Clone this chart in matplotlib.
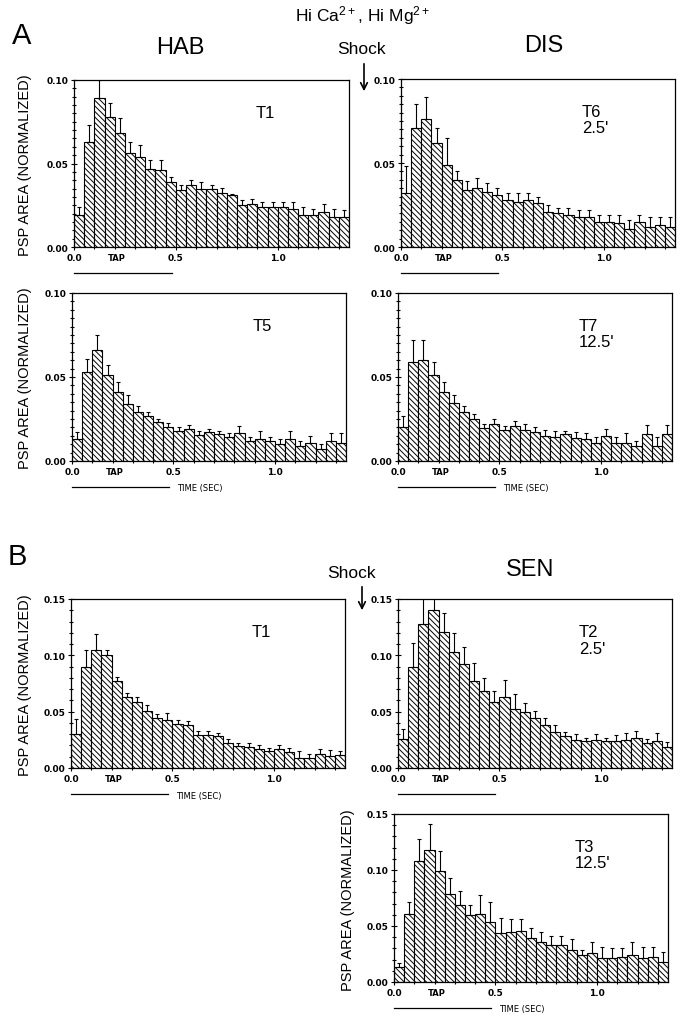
import matplotlib
matplotlib.use('Agg')
import matplotlib.pyplot as plt
import matplotlib.transforms as mtransforms
from matplotlib.ticker import MultipleLocator
import numpy as np

plt.rcParams['font.family'] = ['Liberation Sans', 'DejaVu Sans']
plt.rcParams['mathtext.default'] = 'regular'
plt.rcParams['hatch.linewidth'] = 0.7

BIN = 0.05  # bin width (sec)

# --- A: HAB T1 ---
hab_t1 = [0.019, 0.063, 0.0895, 0.078, 0.068, 0.056, 0.054, 0.047, 0.046, 0.039,
          0.034, 0.037, 0.035, 0.035, 0.0324, 0.031, 0.025, 0.026, 0.024, 0.024,
          0.024, 0.023, 0.019, 0.019, 0.021, 0.018, 0.018]
hab_t1_err = [0.005, 0.010, 0.0105, 0.008, 0.009, 0.007, 0.007, 0.005, 0.006, 0.003,
              0.003, 0.003, 0.004, 0.002, 0.003, 0.001, 0.003, 0.003, 0.003, 0.003,
              0.003, 0.004, 0.005, 0.004, 0.005, 0.005, 0.004]

# --- A: DIS T6 ---
dis_t6 = [0.032, 0.071, 0.076, 0.062, 0.049, 0.040, 0.034, 0.035, 0.033, 0.031,
          0.028, 0.027, 0.028, 0.026, 0.021, 0.020, 0.019, 0.018, 0.018, 0.015,
          0.015, 0.014, 0.011, 0.015, 0.012, 0.013, 0.012]
dis_t6_err = [0.0165, 0.014, 0.013, 0.009, 0.016, 0.005, 0.005, 0.006, 0.005, 0.004,
              0.004, 0.005, 0.004, 0.004, 0.004, 0.003, 0.004, 0.004, 0.004, 0.004,
              0.004, 0.005, 0.005, 0.004, 0.006, 0.005, 0.006]

# --- A: HAB T5 ---
hab_t5 = [0.013, 0.053, 0.066, 0.051, 0.041, 0.034, 0.029, 0.0265, 0.023, 0.020,
          0.018, 0.019, 0.0155, 0.017, 0.016, 0.0145, 0.0165, 0.012, 0.013, 0.012,
          0.010, 0.013, 0.009, 0.011, 0.007, 0.012, 0.011]
hab_t5_err = [0.004, 0.008, 0.009, 0.006, 0.006, 0.005, 0.004, 0.0025, 0.002, 0.0025,
              0.002, 0.0025, 0.0025, 0.002, 0.002, 0.002, 0.0045, 0.002, 0.005, 0.002,
              0.003, 0.005, 0.003, 0.004, 0.003, 0.0045, 0.0055]

# --- A: DIS T7 ---
dis_t7 = [0.020, 0.059, 0.060, 0.051, 0.041, 0.0345, 0.029, 0.025, 0.0195, 0.022,
          0.0185, 0.021, 0.0185, 0.017, 0.015, 0.0145, 0.016, 0.0135, 0.013, 0.011,
          0.015, 0.011, 0.011, 0.009, 0.016, 0.009, 0.016]
dis_t7_err = [0.0065, 0.013, 0.012, 0.008, 0.006, 0.0045, 0.0035, 0.003, 0.0025, 0.003,
              0.0025, 0.003, 0.0035, 0.0035, 0.0035, 0.0035, 0.002, 0.0035, 0.0035, 0.003,
              0.004, 0.003, 0.0055, 0.003, 0.0055, 0.005, 0.0055]

# --- B: HAB T1 ---
habb_t1 = [0.030, 0.090, 0.105, 0.100, 0.077, 0.063, 0.059, 0.051, 0.044, 0.043,
           0.039, 0.038, 0.029, 0.0295, 0.028, 0.022, 0.0195, 0.019, 0.017, 0.015,
           0.0165, 0.0145, 0.009, 0.0085, 0.0125, 0.0105, 0.0115]
habb_t1_err = [0.0137, 0.015, 0.014, 0.005, 0.004, 0.004, 0.004, 0.005, 0.004, 0.006,
               0.004, 0.004, 0.004, 0.0035, 0.0035, 0.0035, 0.0025, 0.003, 0.0035, 0.003,
               0.0035, 0.0035, 0.006, 0.0035, 0.0045, 0.0055, 0.004]

# --- B: SEN T2 ---
sen_t2 = [0.026, 0.090, 0.128, 0.140, 0.121, 0.103, 0.092, 0.077, 0.068, 0.059,
          0.063, 0.052, 0.050, 0.044, 0.038, 0.032, 0.028, 0.025, 0.024, 0.025,
          0.024, 0.024, 0.0245, 0.027, 0.022, 0.024, 0.019]
sen_t2_err = [0.009, 0.021, 0.030, 0.020, 0.017, 0.017, 0.015, 0.016, 0.012, 0.009,
              0.015, 0.014, 0.008, 0.007, 0.006, 0.006, 0.004, 0.005, 0.003, 0.005,
              0.003, 0.005, 0.0065, 0.006, 0.004, 0.007, 0.004]

# --- B: SEN T3 ---
sen_t3 = [0.0135, 0.061, 0.108, 0.118, 0.099, 0.079, 0.069, 0.060, 0.061, 0.0535,
          0.044, 0.045, 0.0455, 0.039, 0.036, 0.033, 0.033, 0.029, 0.024, 0.026,
          0.0215, 0.021, 0.022, 0.024, 0.0215, 0.022, 0.018]
sen_t3_err = [0.0035, 0.010, 0.020, 0.023, 0.018, 0.014, 0.012, 0.009, 0.017, 0.0175,
              0.013, 0.011, 0.0105, 0.009, 0.0085, 0.0085, 0.0085, 0.009, 0.005, 0.010,
              0.0095, 0.009, 0.008, 0.012, 0.0095, 0.009, 0.009]

W, H = 687, 1020


def box(x0, y0, x1, y1):
    """pixel box (top-left origin) -> figure fraction rect"""
    return [x0 / W, 1 - y1 / H, (x1 - x0) / W, (y1 - y0) / H]


def panel(fig, rect, vals, errs, ymax, label, show_time=False):
    ax = fig.add_axes(rect)
    x = np.arange(len(vals)) * BIN
    ax.bar(x, vals, width=BIN, align='edge', color='white', edgecolor='black',
           linewidth=0.8, hatch='\\' * 6, zorder=2)
    ax.errorbar(x + BIN / 2, vals, yerr=[np.zeros(len(vals)), errs], fmt='none',
                ecolor='black', elinewidth=0.8, capsize=1.5, capthick=0.8, zorder=3,
                clip_on=True)
    ax.set_xlim(0, len(vals) * BIN)
    ax.set_ylim(0, ymax)
    ax.set_xticks([0.0, 0.5, 1.0])
    ax.set_xticklabels(['0.0', '0.5', '1.0'])
    ax.set_yticks(np.arange(0, ymax + 1e-9, 0.05))
    ax.set_yticklabels(['%.2f' % v for v in np.arange(0, ymax + 1e-9, 0.05)])
    ax.yaxis.set_minor_locator(MultipleLocator(0.01 if ymax > 0.1 else 0.005))
    ax.xaxis.set_minor_locator(MultipleLocator(0.1))
    ax.tick_params(which='both', direction='inout', labelsize=6.5, width=0.8)
    ax.tick_params(which='major', length=4, pad=2)
    ax.tick_params(which='minor', length=2.5)
    for lab in ax.get_xticklabels() + ax.get_yticklabels():
        lab.set_fontweight('bold')
        lab.set_family('DejaVu Sans')
    for s in ax.spines.values():
        s.set_linewidth(0.9)

    trans = mtransforms.blended_transform_factory(ax.transData, ax.transAxes)
    ax.text(0.21, -0.065, 'TAP', transform=trans, ha='center', va='center',
            fontsize=6, fontweight='bold', family='DejaVu Sans')
    ax.plot([0.0, 0.48], [-0.155, -0.155], transform=trans, color='black',
            lw=0.9, clip_on=False)
    if show_time:
        ax.text(0.52, -0.16, 'TIME (SEC)', transform=trans, ha='left', va='center',
                fontsize=6, family='DejaVu Sans')
    ax.text(0.66, 0.85, label, transform=ax.transAxes, ha='left', va='top',
            fontsize=12, linespacing=1.1)
    return ax


def main():
    fig = plt.figure(figsize=(W / 100, H / 100), dpi=100)

    panel(fig, box(74, 81, 349, 248), hab_t1, hab_t1_err, 0.10, 'T1')
    panel(fig, box(401, 80, 675, 248), dis_t6, dis_t6_err, 0.10, 'T6\n2.5\'')
    panel(fig, box(72, 294, 346, 462), hab_t5, hab_t5_err, 0.10, 'T5', show_time=True)
    panel(fig, box(398, 294, 672, 462), dis_t7, dis_t7_err, 0.10, 'T7\n12.5\'', show_time=True)
    panel(fig, box(71, 600, 345, 769), habb_t1, habb_t1_err, 0.15, 'T1', show_time=True)
    panel(fig, box(398, 600, 672, 769), sen_t2, sen_t2_err, 0.15, 'T2\n2.5\'')
    panel(fig, box(394, 815, 668, 983), sen_t3, sen_t3_err, 0.15, 'T3\n12.5\'', show_time=True)

    def fx(px):
        return px / W

    def fy(py):
        return 1 - py / H

    ylab = 'PSP AREA (NORMALIZED)'
    for xc, yc in [(25, 165), (25, 378), (25, 685), (348, 900)]:
        fig.text(fx(xc), fy(yc), ylab, rotation=90, ha='center', va='center', fontsize=10.5)

    fig.text(fx(22), fy(36), 'A', fontsize=21, ha='center', va='center')
    fig.text(fx(17), fy(557), 'B', fontsize=21, ha='center', va='center')
    fig.text(fx(180), fy(48), 'HAB', fontsize=17, ha='center', va='center')
    fig.text(fx(544), fy(46), 'DIS', fontsize=17, ha='center', va='center')
    fig.text(fx(530), fy(570), 'SEN', fontsize=17, ha='center', va='center')
    fig.text(fx(363), fy(16), 'Hi Ca$^{2+}$, Hi Mg$^{2+}$', fontsize=12.5,
             ha='center', va='center')
    fig.text(fx(362), fy(50), 'Shock', fontsize=12.5, ha='center', va='center')
    fig.text(fx(352), fy(573), 'Shock', fontsize=12.5, ha='center', va='center')

    for (xa, y0, y1) in [(364, 62, 95), (362, 585, 614)]:
        fig.add_artist(matplotlib.patches.FancyArrowPatch(
            (fx(xa), fy(y0)), (fx(xa), fy(y1)), transform=fig.transFigure,
            arrowstyle='->', mutation_scale=12, lw=1.2, color='black'))

    fig.savefig('out.png', dpi=100, facecolor='white')


if __name__ == '__main__':
    main()
